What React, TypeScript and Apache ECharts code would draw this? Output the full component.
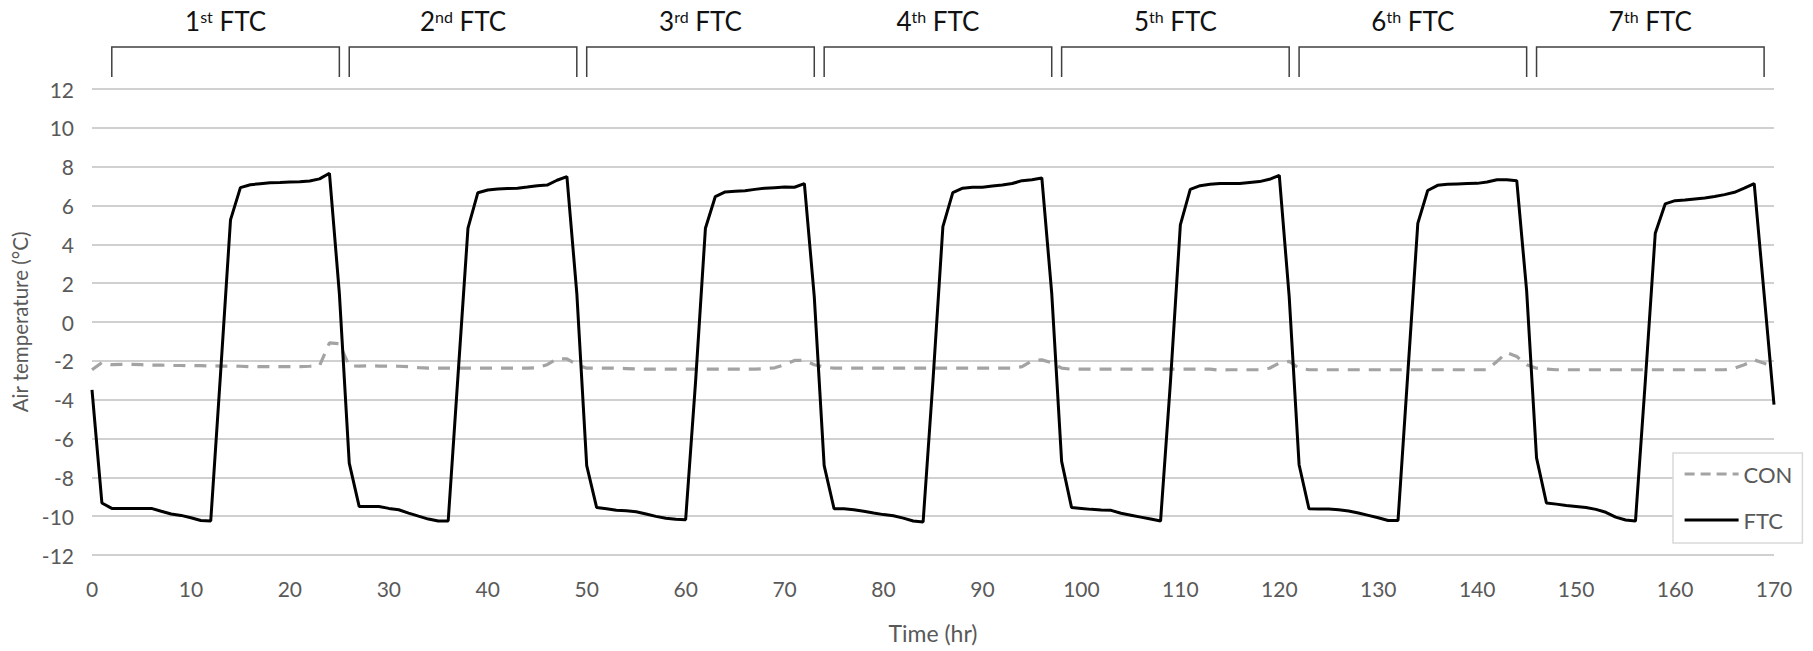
import React, { useEffect, useRef } from 'react';
import * as echarts from 'echarts';

// Time axis: hourly readings, 0 .. 170 h
const hours: number[] = Array.from({ length: 171 }, (_, i) => i);

// Control (CON) air temperature, °C
const conTemp: number[] = [
  -2.46, -2.09, -2.2, -2.18, -2.18, -2.2, -2.22, -2.22, -2.24, -2.24,
  -2.25, -2.25, -2.26, -2.27, -2.27, -2.28, -2.3, -2.3, -2.3, -2.3,
  -2.3, -2.3, -2.28, -2.25, -1.08, -1.12, -2.26, -2.27, -2.25, -2.27,
  -2.27, -2.28, -2.3, -2.35, -2.38, -2.38, -2.38, -2.38, -2.38, -2.38,
  -2.38, -2.38, -2.38, -2.38, -2.38, -2.35, -2.2, -1.9, -1.9, -2.2,
  -2.38, -2.38, -2.38, -2.38, -2.4, -2.42, -2.43, -2.43, -2.43, -2.43,
  -2.43, -2.43, -2.43, -2.43, -2.43, -2.43, -2.43, -2.43, -2.4, -2.36,
  -2.2, -1.98, -1.98, -2.2, -2.32, -2.38, -2.38, -2.38, -2.38, -2.38,
  -2.38, -2.38, -2.38, -2.38, -2.38, -2.38, -2.38, -2.38, -2.38, -2.38,
  -2.38, -2.38, -2.38, -2.38, -2.3, -2.0, -1.95, -2.1, -2.38, -2.43,
  -2.43, -2.43, -2.43, -2.43, -2.43, -2.43, -2.43, -2.43, -2.43, -2.43,
  -2.43, -2.43, -2.43, -2.43, -2.48, -2.46, -2.46, -2.46, -2.46, -2.38,
  -2.12, -2.03, -2.38, -2.46, -2.46, -2.46, -2.46, -2.46, -2.46, -2.46,
  -2.46, -2.46, -2.46, -2.46, -2.46, -2.46, -2.46, -2.46, -2.46, -2.46,
  -2.46, -2.46, -2.03, -1.57, -1.78, -2.2, -2.38, -2.43, -2.46, -2.46,
  -2.46, -2.46, -2.46, -2.46, -2.46, -2.46, -2.46, -2.46, -2.46, -2.46,
  -2.46, -2.46, -2.46, -2.46, -2.46, -2.46, -2.38, -2.2, -1.95, -2.12,
  -2.38,
];

// Freeze-thaw cycled (FTC) air temperature, °C
const ftcTemp: number[] = [
  -3.49, -9.32, -9.6, -9.6, -9.6, -9.6, -9.6, -9.75, -9.89, -9.96,
  -10.08, -10.22, -10.25, -2.6, 5.26, 6.92, 7.07, 7.12, 7.17, 7.18,
  7.21, 7.22, 7.26, 7.37, 7.66, 1.48, -7.27, -9.5, -9.5, -9.5,
  -9.6, -9.67, -9.84, -10.0, -10.15, -10.25, -10.25, -2.7, 4.83, 6.66,
  6.8, 6.85, 6.87, 6.89, 6.95, 7.02, 7.05, 7.3, 7.49, 1.48,
  -7.4, -9.55, -9.62, -9.7, -9.72, -9.77, -9.89, -10.01, -10.11, -10.16,
  -10.18, -3.1, 4.83, 6.46, 6.7, 6.73, 6.76, 6.83, 6.89, 6.92,
  6.95, 6.94, 7.13, 1.31, -7.4, -9.62, -9.62, -9.67, -9.75, -9.84,
  -9.92, -9.98, -10.1, -10.25, -10.3, -3.0, 4.91, 6.66, 6.89, 6.94,
  6.94, 7.0, 7.06, 7.13, 7.28, 7.33, 7.42, 1.48, -7.18, -9.55,
  -9.6, -9.65, -9.68, -9.7, -9.85, -9.95, -10.05, -10.15, -10.25, -3.08,
  5.0, 6.83, 7.02, 7.09, 7.13, 7.13, 7.13, 7.18, 7.23, 7.35,
  7.55, 1.31, -7.35, -9.62, -9.63, -9.63, -9.67, -9.73, -9.84, -9.96,
  -10.08, -10.22, -10.22, -2.57, 5.08, 6.77, 7.04, 7.09, 7.11, 7.13,
  7.14, 7.21, 7.33, 7.33, 7.28, 1.6, -7.0, -9.32, -9.38, -9.45,
  -9.5, -9.55, -9.65, -9.8, -10.05, -10.2, -10.25, -3.0, 4.57, 6.08,
  6.25, 6.28, 6.34, 6.39, 6.46, 6.56, 6.68, 6.89, 7.13, 1.43,
  -4.26,
];

// Freeze-thaw cycle brackets (in hours)
const cycleStart: number[] = [2, 26, 50, 74, 98, 122, 146];
const cycleEnd: number[] = [25, 49, 73, 97, 121, 145, 169];
const cycleNumber: string[] = ['1', '2', '3', '4', '5', '6', '7'];
const cycleSuffix: string[] = ['st', 'nd', 'rd', 'th', 'th', 'th', 'th'];

const FONT = 'Lato, "Noto Sans", "DejaVu Sans", sans-serif';

export default function App() {
  const ref = useRef<HTMLDivElement>(null);

  useEffect(() => {
    if (!ref.current) return;
    const chart = echarts.init(ref.current, null, { renderer: 'svg' });
    const yMax = 12;

    chart.setOption({
      animation: false,
      backgroundColor: '#ffffff',
      textStyle: { fontFamily: FONT },
      grid: { left: 92, right: 39, top: 89, bottom: 96, containLabel: false },
      legend: {
        data: [
          { name: 'CON', lineStyle: { type: [10, 6], width: 3.2, color: '#a3a3a3' } },
          { name: 'FTC', lineStyle: { width: 3, color: '#000000' } },
        ],
        orient: 'vertical',
        left: 1673,
        top: 453,
        padding: [10, 10, 12, 10],
        itemWidth: 54,
        itemHeight: 20,
        itemGap: 24,
        itemStyle: { opacity: 0 },
        backgroundColor: '#ffffff',
        borderColor: '#d9d9d9',
        borderWidth: 1.5,
        textStyle: { fontSize: 22, color: '#595959', fontFamily: FONT },
      },
      xAxis: {
        type: 'value',
        min: 0,
        max: 170,
        interval: 10,
        name: 'Time (hr)',
        nameLocation: 'middle',
        nameGap: 66,
        nameTextStyle: { fontSize: 23, color: '#595959', fontFamily: FONT },
        axisLine: { show: false },
        axisTick: { show: false },
        splitLine: { show: false },
        axisLabel: { fontSize: 21, color: '#595959', margin: 23, fontFamily: FONT },
      },
      yAxis: {
        type: 'value',
        min: -12,
        max: yMax,
        interval: 2,
        name: 'Air temperature (°C)',
        nameLocation: 'middle',
        nameGap: 54,
        nameRotate: 90,
        nameTextStyle: { fontSize: 20.5, color: '#595959', fontFamily: FONT },
        axisLine: { show: false },
        axisTick: { show: false },
        splitLine: { show: true, lineStyle: { color: '#d0d0d0', width: 2 } },
        axisLabel: { fontSize: 21, color: '#595959', margin: 18, fontFamily: FONT },
      },
      series: [
        {
          name: 'CON',
          type: 'line',
          data: hours.map((h, i) => [h, conTemp[i]]),
          symbol: 'none',
          lineStyle: { color: '#a3a3a3', width: 3.2, type: [12, 9] },
          itemStyle: { color: '#a3a3a3' },
          z: 2,
        },
        {
          name: 'FTC',
          type: 'line',
          data: hours.map((h, i) => [h, ftcTemp[i]]),
          symbol: 'none',
          lineStyle: { color: '#000000', width: 3 },
          itemStyle: { color: '#000000' },
          z: 3,
        },
        {
          name: 'cycles',
          type: 'custom',
          silent: true,
          clip: false,
          encode: { x: [0, 1], y: 2 },
          data: cycleStart.map((s, i) => [s, cycleEnd[i], i]),
          renderItem: (_params: any, api: any) => {
            const idx = api.value(2);
            const p1 = api.coord([api.value(0), yMax]);
            const p2 = api.coord([api.value(1), yMax]);
            const yBottom = p1[1] - 12;
            const yTop = p1[1] - 42;
            return {
              type: 'group',
              children: [
                {
                  type: 'polyline',
                  shape: {
                    points: [
                      [p1[0], yBottom],
                      [p1[0], yTop],
                      [p2[0], yTop],
                      [p2[0], yBottom],
                    ],
                  },
                  style: { stroke: '#404040', lineWidth: 1.5, fill: null },
                },
                {
                  type: 'text',
                  x: (p1[0] + p2[0]) / 2,
                  y: 21,
                  style: {
                    text: `{n|${cycleNumber[idx]}}{s|${cycleSuffix[idx]}}{n| FTC}`,
                    align: 'center',
                    verticalAlign: 'middle',
                    rich: {
                      n: { fontSize: 26, fontFamily: FONT, fill: '#111111' },
                      s: { fontSize: 16, fontFamily: FONT, fill: '#111111', verticalAlign: 'top' },
                    },
                  },
                },
              ],
            };
          },
          z: 4,
        },
      ],
    });

    return () => {
      chart.dispose();
    };
  }, []);

  return (
    <div
      ref={ref}
      style={{ position: 'fixed', left: 0, top: 0, width: 1813, height: 651, background: '#fff' }}
    />
  );
}
